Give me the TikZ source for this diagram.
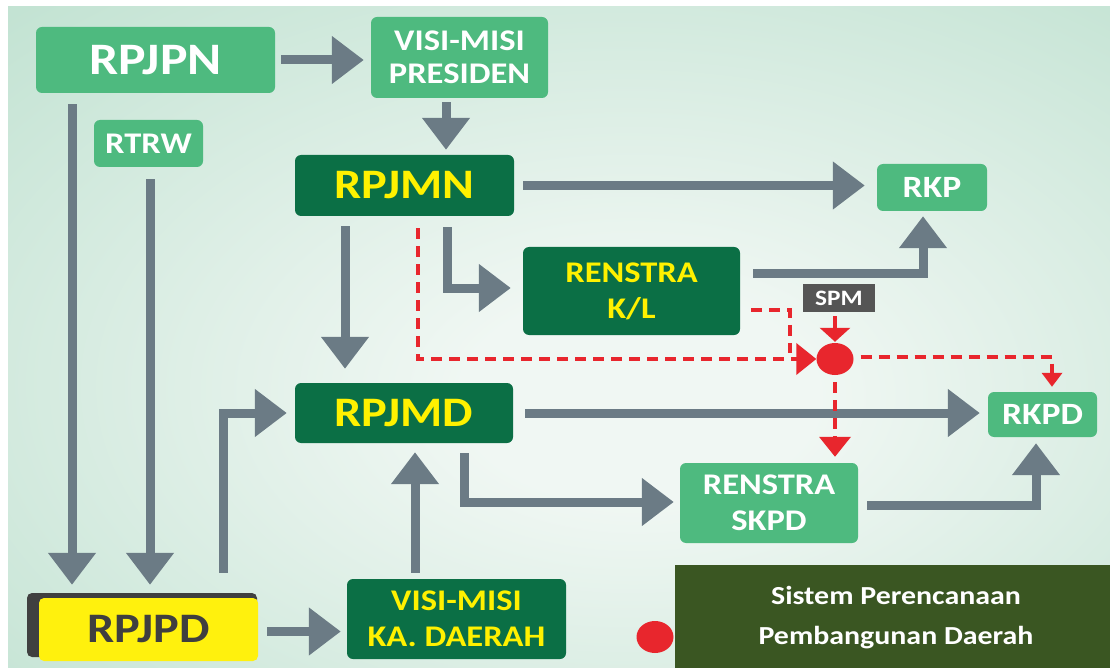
\documentclass[tikz,border=0pt]{standalone}
\usepackage{fontspec}
\setmainfont{Carlito}[FakeStretch=1.15]
\usetikzlibrary{arrows.meta,calc,shapes.geometric}
\definecolor{midgreen}{HTML}{4EBA7F}
\definecolor{darkgreen}{HTML}{0B6F45}
\definecolor{ytext}{HTML}{FFF100}
\definecolor{arrowgray}{HTML}{6B7B85}
\definecolor{redc}{HTML}{E8262D}
\definecolor{spmgray}{HTML}{555555}
\definecolor{legendgreen}{HTML}{3A5622}
\definecolor{yellowbox}{HTML}{FFF10D}
\definecolor{shadowgray}{HTML}{404040}
\definecolor{rpjpdtext}{HTML}{3F3F3F}
\definecolor{bgin}{HTML}{F0F7F3}
\definecolor{bgout}{HTML}{B8DECB}
\pgfdeclareradialshading{bgshade}{\pgfpoint{4bp}{-5bp}}{color(0bp)=(bgin); color(8bp)=(bgin); color(46bp)=(bgout); color(90bp)=(bgout)}
\newcommand\myfs[2]{\fontsize{#1}{#2}\selectfont\bfseries}
\begin{document}
\begin{tikzpicture}[x=1pt,y=-1pt,
  lbox/.style={fill=midgreen, text=white, rounded corners=6pt, align=center, inner sep=0pt},
  dbox/.style={fill=darkgreen, text=ytext, rounded corners=6pt, align=center, inner sep=0pt},
  garrow/.style={draw=arrowgray, line width=9pt, -{Triangle[width=46pt,length=32pt]}},
  rdash/.style={draw=redc, line width=4pt, dash pattern=on 11pt off 7pt},
  rhead/.style={-{Triangle[width=31pt,length=20pt]}}]
\useasboundingbox (0,0) rectangle (1110,668);
\fill[white] (0,0) rectangle (1110,668);
\shade[shading=bgshade] (8,7) rectangle (1110,668);
% helper x positions
\coordinate (c72) at (72,0);
\coordinate (c150) at (150,0);
\coordinate (c223) at (223,0);
\coordinate (c345) at (345,0);
\coordinate (c415) at (415,0);
\coordinate (c418) at (418,0);
\coordinate (c446) at (446,0);
\coordinate (c447) at (447,0);
\coordinate (c464) at (464,0);
\coordinate (c923) at (923,0);
\coordinate (c1036) at (1036,0);
\coordinate (c1052) at (1052,0);
% nodes
\node[lbox, minimum width=239pt, minimum height=66pt, font=\myfs{45}{48}] (rpjpn) at (155.5,60) {RPJPN};
\node[lbox, minimum width=177pt, minimum height=81pt, font=\myfs{30}{33}] (visip) at (459.5,57.5) {VISI-MISI\\PRESIDEN};
\node[lbox, minimum width=109pt, minimum height=47pt, font=\myfs{30}{32}] (rtrw) at (148.5,143.5) {RTRW};
\node[dbox, minimum width=219pt, minimum height=61pt, font=\myfs{42}{46}] (rpjmn) at (404.5,185.5) {RPJMN};
\node[lbox, minimum width=110pt, minimum height=47pt, font=\myfs{31}{34}] (rkp) at (932,187.5) {RKP};
\node[dbox, minimum width=217pt, minimum height=88pt, font=\myfs{30}{36}] (renkl) at (631.5,291) {RENSTRA\\K/L};
\node[fill=spmgray, text=white, inner sep=0pt, minimum width=72pt, minimum height=28pt, font=\myfs{22}{24}] (spm) at (839,298) {SPM};
\node[dbox, minimum width=218pt, minimum height=60pt, font=\myfs{42}{46}] (rpjmd) at (404,413) {RPJMD};
\node[lbox, minimum width=109pt, minimum height=45pt, font=\myfs{31}{34}] (rkpd) at (1042.5,414.5) {RKPD};
\node[lbox, minimum width=178pt, minimum height=80pt, font=\myfs{30}{36}] (renskpd) at (769,503) {RENSTRA\\SKPD};
\node[fill=shadowgray, rounded corners=5pt, minimum width=230pt, minimum height=64pt, inner sep=0pt] (rpjpdsh) at (142,625) {};
\node[fill=yellowbox, text=rpjpdtext, rounded corners=5pt, minimum width=219pt, minimum height=63pt, inner sep=0pt, font=\myfs{42}{46}] (rpjpd) at (148.5,629.5) {RPJPD};
\node[dbox, minimum width=219pt, minimum height=80pt, font=\myfs{30}{36}] (visika) at (456.5,619) {VISI-MISI\\KA. DAERAH};
\node[ellipse, fill=redc, minimum width=37pt, minimum height=32pt, inner sep=0pt] (dot) at (835,359) {};
\node[ellipse, fill=redc, minimum width=37pt, minimum height=32pt, inner sep=0pt] (legdot) at (655,637) {};
\node[fill=legendgreen, minimum width=440pt, minimum height=108pt, inner sep=0pt, anchor=north west] (legend) at (675,565) {};
\node[text=white, align=center, font=\myfs{26}{40}] (legtext) at (896,618) {Sistem Perencanaan\\Pembangunan Daerah};
% grey connectors
\draw[garrow] ($(rpjpn.east)+(6,0)$) -- ($(rpjpn.east -| visip.west)+(-7,0)$);
\draw[garrow] ($(visip.south -| c446)+(0,4)$) -- ($(rpjmn.north -| c446)+(0,-5)$);
\draw[garrow] ($(rpjpn.south -| c72)+(0,11)$) -- ($(rpjpdsh.north -| c72)+(0,-8)$);
\draw[garrow] ($(rtrw.south -| c150)+(0,12)$) -- ($(rpjpdsh.north -| c150)+(0,-8)$);
\draw[garrow] ($(rpjpdsh.north -| c223)+(0,-20)$) |- ($(rpjmd.west)+(-8,0)$);
\draw[garrow] ($(rpjmn.south -| c345)+(0,10)$) -- ($(rpjmd.north -| c345)+(0,-14)$);
\draw[garrow] ($(rpjmn.south -| c447)+(0,11)$) |- ($(renkl.west)+(-12,-3)$);
\draw[garrow] ($(rpjmn.east)+(9,0)$) -- ($(rpjmn.east -| rkp.west)+(-12,0)$);
\draw[garrow] ($(renkl.east)+(13,-18)$) -| ($(rkp.south -| c923)+(0,5)$);
\draw[garrow] ($(rpjmd.east)+(12,0)$) -- ($(rpjmd.east -| rkpd.west)+(-8,0)$);
\draw[garrow] ($(rpjmd.south -| c464)+(0,10)$) |- ($(renskpd.west)+(-6,-1)$);
\draw[garrow] ($(visika.north -| c415)+(0,-6)$) -- ($(rpjmd.south -| c415)+(0,9)$);
\draw[garrow] ($(rpjpd.east)+(9,2)$) -- ($(rpjpd.east -| visika.west)+(-6,2)$);
\draw[garrow] ($(renskpd.east)+(9,2)$) -| ($(rkpd.south -| c1036)+(0,6)$);
% red connectors
\draw[rdash, rhead] ($(rpjmn.south -| c418)+(0,12)$) |- (dot.west);
\draw[rdash] ($(renkl.east)+(11,19)$) -| ($(dot.west)+(-26,-6)$);
\draw[draw=redc, line width=4pt, -{Triangle[width=30pt,length=14pt]}] ($(dot.north |- spm.south)+(0,4)$) -- ($(dot.north)+(0,-1)$);
\draw[rdash, -{Triangle[width=20pt,length=14pt]}] ($(dot.east)+(7,-2)$) -| ($(rkpd.north -| c1052)+(0,-5)$);
\draw[rdash, rhead] ($(dot.south)+(0,7)$) -- ($(dot.south |- renskpd.north)+(0,-6)$);
\end{tikzpicture}
\end{document}
